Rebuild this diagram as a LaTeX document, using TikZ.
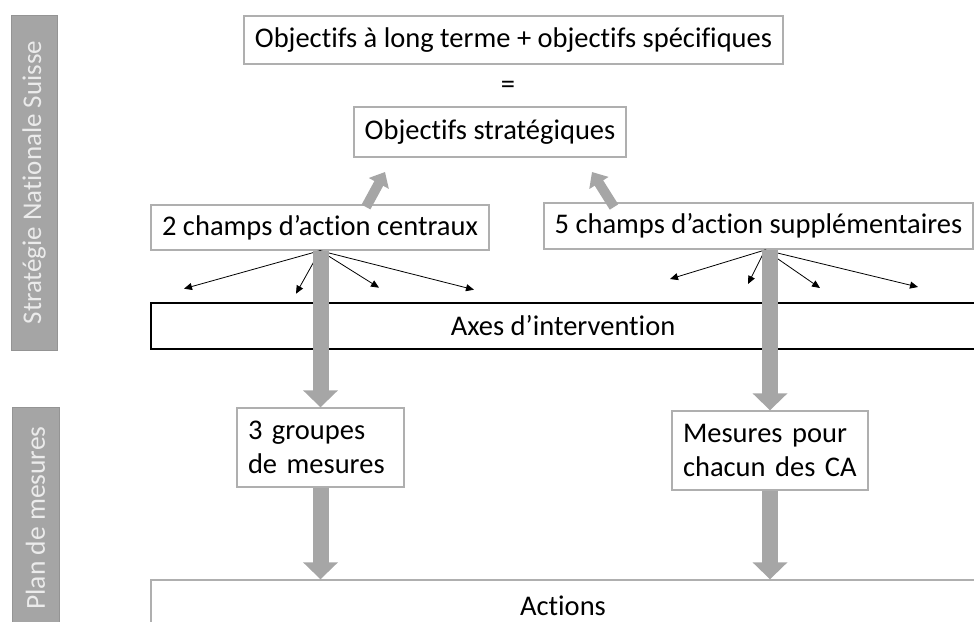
\documentclass[tikz,border=0pt]{standalone}
\usepackage{fontspec}
\setmainfont{Carlito}[Ligatures=NoCommon]
\usepackage{xcolor}
\usetikzlibrary{arrows.meta}
\definecolor{BarGray}{RGB}{165,165,165}
\definecolor{BarText}{RGB}{235,235,235}
\definecolor{ArrowGray}{RGB}{166,166,166}
\definecolor{BoxGray}{RGB}{175,175,175}

\begin{document}
\begin{tikzpicture}[x=1pt,y=1pt,yscale=-1,xscale=1,
	every node/.style={font=\fontsize{28.5}{34}\selectfont, inner sep=0.75pt},
	graybox/.style={draw=BoxGray, line width=1.4pt, fill=white, anchor=center},
	sidebar/.style={draw=BarGray!90!black, fill=BarGray, text=BarText, rotate=90, anchor=center, line width=1pt},
	bigarrow/.style={draw=ArrowGray, line width=16pt, -{Triangle[width=34pt,length=17pt]}},
	smallarrow/.style={draw=ArrowGray, line width=10pt, -{Triangle[width=22pt,length=13pt]}},
	fan/.style={black, line width=0.8pt, -{Triangle[width=7pt,length=8pt]}}]
		\useasboundingbox (0,0) rectangle (974,621);

		% The two grey bars on the left
		\node[sidebar, minimum width=335, minimum height=46, font=\fontsize{27}{32}\selectfont] (barStrat) at (34,182.5) {Stratégie Nationale Suisse};
		\node[sidebar, minimum width=222, minimum height=47, font=\fontsize{27.5}{32}\selectfont] (barPlan) at (35.5,518) {Plan de mesures};

		% Objectives at the top
		\node[graybox, minimum width=539, minimum height=48] (objLong) at (513.5,40) {Objectifs à long terme + objectifs spécifiques};
		\node (egal) at (508,87) {=};
		\node[graybox, minimum width=272, minimum height=50] (objStrat) at (490,132) {Objectifs stratégiques};

		% Fields of action
		\node[graybox, minimum width=338, minimum height=45] (champsCentr) at (320,227.5) {2 champs d’action centraux};
		\node[graybox, minimum width=429, minimum height=46] (champsSuppl) at (758.5,226) {5 champs d’action supplémentaires};

		% Intervention axes, black frame
		\node[draw=black, line width=1.6pt, fill=white, minimum width=824, minimum height=46] (axes) at (563,326) {Axes d’intervention};

		% Measures and actions
		\node[graybox, minimum height=79, text width=145, inner xsep=11, align=left] (groupes) at (320.5,447.5) {3 groupes\\de mesures};
		\node[graybox, minimum height=79, text width=174, inner xsep=11, align=left] (mesures) at (770,450.5) {Mesures pour\\chacun des CA};
		\node[graybox, minimum width=824, minimum height=52] (actions) at (563,606) {Actions};

		% Small arrows towards the strategic objectives
		\coordinate (upL) at (366,207);
		\coordinate (upR) at (614,207);
		\draw[smallarrow] (upL) -- (385,172);
		\draw[smallarrow] (upR) -- (592,172);

		% Thin arrows fanning out to the axes
		\coordinate (fanL) at (champsCentr.south);
		\coordinate (fanR) at (765,250);
		\foreach \dx/\dy in {-136/38, -24/43, 59/37, 154/39}
			\draw[fan] (fanL) -- ++(\dx,\dy);
		\foreach \dx/\dy in {-95/29, -17/34, 55/38, 153/37}
			\draw[fan] (fanR) -- ++(\dx,\dy);

		% Large grey arrows down to the measures and actions
		\draw[bigarrow] (champsCentr.south -| groupes.north) -- (groupes.north);
		\draw[bigarrow] (champsSuppl.south -| mesures.north) -- (mesures.north);
		\draw[bigarrow] (groupes.south) -- (groupes.south |- actions.north);
		\draw[bigarrow] (mesures.south) -- (mesures.south |- actions.north);
	\end{tikzpicture}
\end{document}
